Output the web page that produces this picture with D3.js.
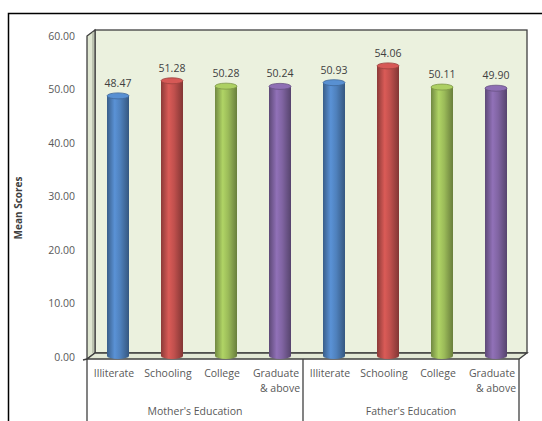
<!DOCTYPE html>
<html><head><meta charset="utf-8">
<script src="https://cdn.jsdelivr.net/npm/d3@7"></script>
<style>body{margin:0;background:#fff}svg{display:block}text{font-family:"Open Sans","Noto Sans",sans-serif}</style>
</head><body><svg id="c" width="542" height="421"></svg>
<script>
const categories = ["Illiterate","Schooling","College","Graduate\n& above","Illiterate","Schooling","College","Graduate\n& above"];
const groups = ["Mother's Education","Father's Education"];
const groupSize = 4;
const values = [48.47,51.28,50.28,50.24,50.93,54.06,50.11,49.90];
const yTicks = [0,10,20,30,40,50,60];
const barColors = ["#4f81bd","#c0504d","#9bbb59","#8064a2","#4f81bd","#c0504d","#9bbb59","#8064a2"];

const svg = d3.select("#c");
const W=542,H=421;
const depth = {dx:8, dy:6};
const frontLeft = 87, frontBottom = 359;
const x = d3.scaleBand().domain(d3.range(categories.length)).range([91,523]).paddingInner(0).paddingOuter(0);
const yFront = d3.scaleLinear().domain([0,60]).range([frontBottom-2, 36]);
const yBar = d3.scaleLinear().domain([0,60]).range([356, 34]);
const backLeft = frontLeft+depth.dx, backTop = 30, backBottom = frontBottom-depth.dy, backRight = 527;
const frontRight = backRight - depth.dx;

// outer frame
svg.append("path").attr("d",`M8.5,${H} V13.5 H${W}`).attr("fill","none").attr("stroke","#000").attr("stroke-width",1.5);

const defs = svg.append("defs");
// back wall
svg.append("rect").attr("x",backLeft).attr("y",backTop).attr("width",backRight-backLeft).attr("height",backBottom-backTop)
  .attr("fill","#ebf1de").attr("stroke","#404040").attr("stroke-width",1.3);
// side wall
svg.append("path").attr("d",`M${frontLeft},${backTop+depth.dy} L${backLeft},${backTop} L${backLeft},${backBottom} L${frontLeft},${frontBottom}Z`)
  .attr("fill","#dfe6d1").attr("stroke","#404040").attr("stroke-width",1.3);
// floor
svg.append("path").attr("d",`M${frontLeft},${frontBottom} L${backLeft},${backBottom} L${backRight},${backBottom} L${frontRight},${frontBottom}Z`)
  .attr("fill","#e3e9d6").attr("stroke","#404040").attr("stroke-width",1.3);
// inner shade line on side wall
svg.append("line").attr("x1",backLeft-2).attr("x2",backLeft-2).attr("y1",backTop+2).attr("y2",backBottom).attr("stroke","#9aa08f").attr("stroke-width",1);

// gradients for cylinders
const uniq = Array.from(new Set(barColors));
uniq.forEach((c,i)=>{
  const g = defs.append("linearGradient").attr("id","g"+i).attr("x1","0").attr("x2","1").attr("y1","0").attr("y2","0");
  const base = d3.color(c);
  g.append("stop").attr("offset","0%").attr("stop-color",base.darker(0.9));
  g.append("stop").attr("offset","35%").attr("stop-color",base.brighter(0.35));
  g.append("stop").attr("offset","60%").attr("stop-color",base);
  g.append("stop").attr("offset","100%").attr("stop-color",base.darker(1.1));
});
const bw = 22, ry = 3;
const bars = svg.append("g");
values.forEach((v,i)=>{
  const cx = x(i)+x.bandwidth()/2;
  const top = yBar(v), bot = yBar(0);
  const gid = "url(#g"+uniq.indexOf(barColors[i])+")";
  bars.append("ellipse").attr("cx",cx).attr("cy",bot).attr("rx",bw/2).attr("ry",ry).attr("fill",gid);
  bars.append("rect").attr("x",cx-bw/2).attr("y",top).attr("width",bw).attr("height",bot-top).attr("fill",gid);
  bars.append("ellipse").attr("cx",cx).attr("cy",top).attr("rx",bw/2).attr("ry",ry)
    .attr("fill",d3.color(barColors[i]).brighter(0.3)).attr("stroke",d3.color(barColors[i]).darker(0.6)).attr("stroke-width",0.8);
  svg.append("text").attr("x",cx).attr("y",top-9).attr("text-anchor","middle").attr("font-size",10.5).attr("fill","#404040")
    .text(d3.format(".2f")(v));
});

// y axis
const ax = svg.append("g").attr("transform",`translate(${frontLeft},0)`)
  .call(d3.axisLeft(yFront).tickValues(yTicks).tickFormat(d3.format(".2f")).tickSize(0).tickPadding(12));
ax.select(".domain").remove();
ax.selectAll("text").attr("font-size",10.5).attr("fill","#595959").attr("font-family","'Open Sans','Noto Sans',sans-serif");
svg.append("line").attr("x1",frontLeft-4).attr("x2",frontLeft).attr("y1",frontBottom+1).attr("y2",frontBottom).attr("stroke","#404040").attr("stroke-width",1.3);

svg.append("text").attr("transform","translate(22,208) rotate(-90)").attr("text-anchor","middle")
  .attr("font-size",10).attr("font-weight","bold").attr("fill","#404040").text("Mean Scores");

// category labels
categories.forEach((c,i)=>{
  const cx = x(i)+x.bandwidth()/2 - 4;
  const lines = c.split("\n");
  const t = svg.append("text").attr("text-anchor","middle").attr("font-size",10.5).attr("fill","#595959");
  lines.forEach((l,j)=>{
    t.append("tspan").attr("x", lines.length>1 && j==1 ? cx+4 : cx).attr("y",377+j*15).text(l);
  });
});
// group lines and labels
const divX = d3.range(groups.length+1).map(k=> (k<groups.length? x(k*groupSize) : x(categories.length-1)+x.bandwidth()) - 4);
divX.forEach(dx=>{
  svg.append("line").attr("x1",dx).attr("x2",dx).attr("y1",frontBottom).attr("y2",H).attr("stroke","#404040").attr("stroke-width",1.3);
});
groups.forEach((g,k)=>{
  svg.append("text").attr("x",(divX[k]+divX[k+1])/2).attr("y",415).attr("text-anchor","middle").attr("font-size",10.5).attr("fill","#595959").text(g);
});
</script></body></html>
